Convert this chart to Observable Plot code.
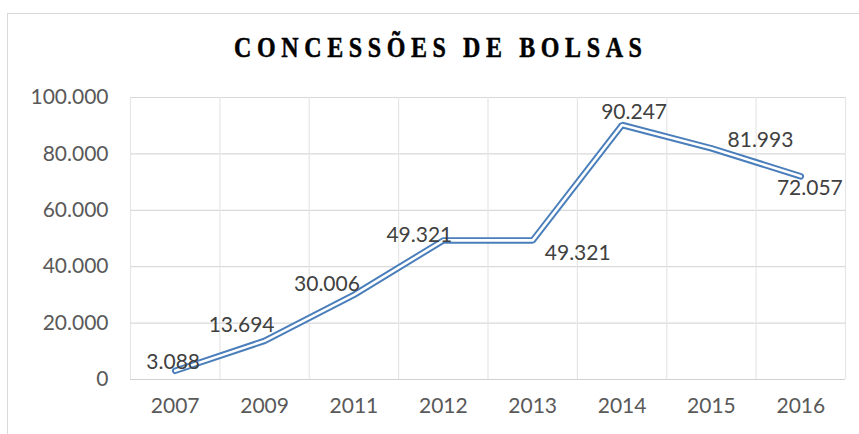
<!DOCTYPE html>
<html><head><meta charset="utf-8">
<script src="https://cdn.jsdelivr.net/npm/d3@7"></script>
<script src="https://cdn.jsdelivr.net/npm/@observablehq/plot@0.6"></script>
<style>
body{margin:0;width:859px;height:434px;overflow:hidden;background:#fff;position:relative;font-family:Lato,sans-serif}
#frame{position:absolute;left:7px;top:13px;width:900px;height:500px;border:1.5px solid #d9d9d9;box-sizing:border-box}
#title{position:absolute;left:0;width:880px;top:30px;text-align:center;white-space:nowrap;font:bold 30px "Liberation Serif","Times New Roman",serif;letter-spacing:7px;color:#000;-webkit-text-stroke:0.5px #000;transform:scaleX(0.8);transform-origin:444px 0}
#chart{position:absolute;left:0;top:80px}
</style></head><body>
<div id="frame"></div>
<div id="title">CONCESSÕES DE BOLSAS</div>
<div id="chart"></div>
<script>
const years = ["2007","2009","2011","2012","2013","2014","2015","2016"];
const values = [3088,13694,30006,49321,49321,90247,81993,72057];
const yTicks = [0,20000,40000,60000,80000,100000];
const labelDx = [-2,-23,-27,-24,45,12,49,9];
const labelDy = [-9,-16,-11,-5,13,-13,-8,12];

const fmt = d3.formatLocale({decimal:",", thousands:".", grouping:[3], currency:["",""]}).format(",");
const data = years.map((yr, i) => ({i, yr, v: values[i]}));
const edges = years.map((_, i) => i - 0.5).concat([years.length - 0.5]);

const blue = "#4a7ebb";
const labels = data.map((d, k) => Plot.text([d], {x: "i", y: "v", text: d => fmt(d.v), dx: labelDx[k], dy: labelDy[k], fill: "#404040", fontSize: 21}));

const chart = Plot.plot({
  width: 859, height: 354,
  marginTop: 17, marginBottom: 55, marginLeft: 130, marginRight: 14,
  style: {fontFamily: "Lato, sans-serif", fontSize: "21px", color: "#595959", background: "transparent"},
  x: {domain: [-0.5, years.length - 0.5]},
  y: {domain: [0, 100000]},
  marks: [
    Plot.gridY(yTicks, {stroke: "#d9d9d9", strokeOpacity: 1, strokeWidth: 1.2}),
    Plot.ruleX(edges, {stroke: "#e6e6e6", strokeWidth: 1.2}),
    Plot.ruleY([0], {stroke: "#d0d0d0", strokeWidth: 1.2}),
    Plot.axisY(yTicks, {tickSize: 0, tickPadding: 22, tickFormat: fmt, label: null, fill: "#595959"}),
    Plot.axisX(data.map(d => d.i), {tickSize: 0, tickPadding: 19, tickFormat: i => years[i], label: null, fill: "#595959"}),
    Plot.line(data, {x: "i", y: "v", stroke: blue, strokeWidth: 6.5, strokeLinejoin: "miter"}),
    Plot.line(data, {x: "i", y: "v", stroke: "#fff", strokeWidth: 2.6, strokeLinejoin: "miter"}),
    ...labels
  ]
});
document.getElementById("chart").appendChild(chart);
</script>
</body></html>
